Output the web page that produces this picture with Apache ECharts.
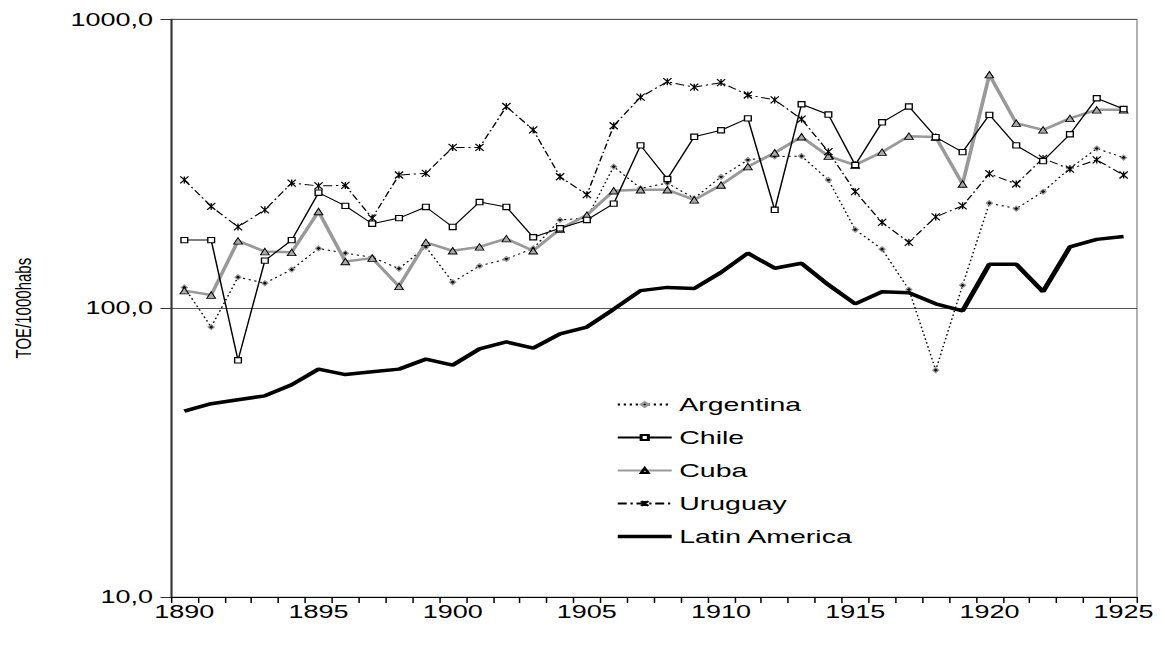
<!DOCTYPE html>
<html>
<head>
<meta charset="utf-8">
<script src="https://cdn.jsdelivr.net/npm/echarts@6/dist/echarts.min.js"></script>
<style>
  html, body { margin: 0; padding: 0; background: #fff; overflow: hidden; }
  /* the reference is stretched sideways by ~1.5, so draw narrow and stretch */
  #main { width: 777px; height: 646px; transform: scaleX(1.4994); transform-origin: 0 0; }
</style>
</head>
<body>
<div id="main"></div>
<script>
var years = ['1890','1891','1892','1893','1894','1895','1896','1897','1898','1899',
  '1900','1901','1902','1903','1904','1905','1906','1907','1908','1909',
  '1910','1911','1912','1913','1914','1915','1916','1917','1918','1919',
  '1920','1921','1922','1923','1924','1925'];

var argentina = [118, 86, 128, 122, 136, 161, 155, 150, 137, 163,
  123, 140, 148, 161, 202, 205, 309, 260, 271, 240,
  285, 326, 335, 336, 278, 187, 160, 116, 61, 120,
  231, 221, 253, 305, 357, 332];
var chile = [172, 172, 66, 146, 172, 251, 226, 196, 205, 224,
  191, 233, 224, 176, 189, 202, 230, 366, 280, 392,
  413, 454, 219, 508, 468, 313, 440, 499, 391, 347,
  467, 366, 323, 400, 533, 489];
var cuba = [115, 111, 171, 157, 156, 216, 145, 149, 119, 169,
  158, 163, 174, 158, 188, 210, 255, 257, 257, 237,
  267, 309, 345, 392, 336, 313, 347, 394, 391, 269,
  643, 437, 414, 454, 486, 486];
var uruguay = [278, 225, 191, 219, 271, 265, 266, 205, 289, 293,
  360, 360, 499, 414, 285, 247, 428, 538, 608, 582,
  604, 547, 526, 451, 348, 253, 198, 169, 207, 226,
  292, 269, 330, 303, 326, 289];
var latinAmerica = [44, 46.7, 48.2, 49.7, 54.3, 61.5, 58.9, 60.2, 61.5, 66.6,
  63.5, 72.3, 76.4, 72.7, 81.5, 86, 99.2, 115, 118, 117,
  133, 155, 137.5, 143, 120.5, 103.5, 114, 113, 103.5, 97.9,
  142, 142, 114, 163, 173, 177];

var font = 'Liberation Sans, Arial, sans-serif';
var star = 'path://M0,0L10,10M0,10L10,0M5,0L5,10';

var chart = echarts.init(document.getElementById('main'), null, { renderer: 'svg' });

var option = {
  animation: false,
  backgroundColor: '#fff',
  grid: {
    left: 111, right: 18.7, top: 19.3, bottom: 49,
    show: true, borderColor: '#999', borderWidth: 1
  },
  legend: {
    orient: 'vertical',
    left: 406,
    top: 390,
    itemWidth: 36,
    itemHeight: 6,
    itemGap: 14,
    textStyle: { fontFamily: font, fontSize: 19, color: '#000' },
    data: [
      'Argentina', 'Chile', 'Cuba', 'Uruguay',
      { name: 'Latin America', icon: 'path://M0,0L36,0L36,3.5L0,3.5Z' }
    ]
  },
  xAxis: {
    type: 'category',
    data: years,
    boundaryGap: true,
    axisLine: { lineStyle: { color: '#000', width: 1 } },
    axisTick: { show: true, interval: 0, length: 6, lineStyle: { color: '#000' } },
    axisLabel: { interval: 4, margin: 6, color: '#000', fontFamily: font, fontSize: 18 },
    splitLine: { show: false }
  },
  yAxis: {
    type: 'log',
    logBase: 10,
    min: 10,
    max: 1000,
    name: 'TOE/1000habs',
    nameLocation: 'middle',
    nameGap: 91,
    nameTextStyle: { fontFamily: font, fontSize: 15, color: '#000' },
    axisLine: { show: true, lineStyle: { color: '#333', width: 1.2 } },
    axisTick: { show: true, length: 7, lineStyle: { color: '#333' } },
    axisLabel: {
      margin: 12, color: '#000', fontFamily: font, fontSize: 18,
      formatter: function (v) { return v.toFixed(1).replace('.', ','); }
    },
    splitLine: { show: true, lineStyle: { color: '#555', width: 1 } },
    minorTick: { show: false },
    minorSplitLine: { show: false }
  },
  series: [
    {
      name: 'Argentina',
      type: 'line',
      data: argentina,
      symbol: 'diamond',
      symbolSize: [4, 5],
      lineStyle: { color: '#000', width: 1, type: [1.5, 2.5] },
      itemStyle: { color: '#111', borderColor: '#999', borderWidth: 1 },
      z: 3
    },
    {
      name: 'Chile',
      type: 'line',
      data: chile,
      symbol: 'rect',
      symbolSize: [4.5, 5.3],
      lineStyle: { color: '#000', width: 1 },
      itemStyle: { color: '#fff', borderColor: '#000', borderWidth: 1 },
      z: 4
    },
    {
      name: 'Cuba',
      type: 'line',
      data: cuba,
      symbol: 'triangle',
      symbolSize: [5.8, 6.5],
      lineStyle: { color: '#999', width: 2.5 },
      itemStyle: { color: '#aaa', borderColor: '#000', borderWidth: 0.8 },
      z: 3
    },
    {
      name: 'Uruguay',
      type: 'line',
      data: uruguay,
      symbol: star,
      symbolSize: [5.5, 7],
      lineStyle: { color: '#000', width: 1, type: [6, 2.5, 1.5, 2.5] },
      itemStyle: { color: '#000', borderColor: '#000', borderWidth: 1 },
      z: 3
    },
    {
      name: 'Latin America',
      type: 'line',
      data: latinAmerica,
      symbol: 'none',
      lineStyle: { color: '#000', width: 3.5 },
      itemStyle: { color: '#000' },
      z: 5
    }
  ]
};

chart.setOption(option);
</script>
</body>
</html>
